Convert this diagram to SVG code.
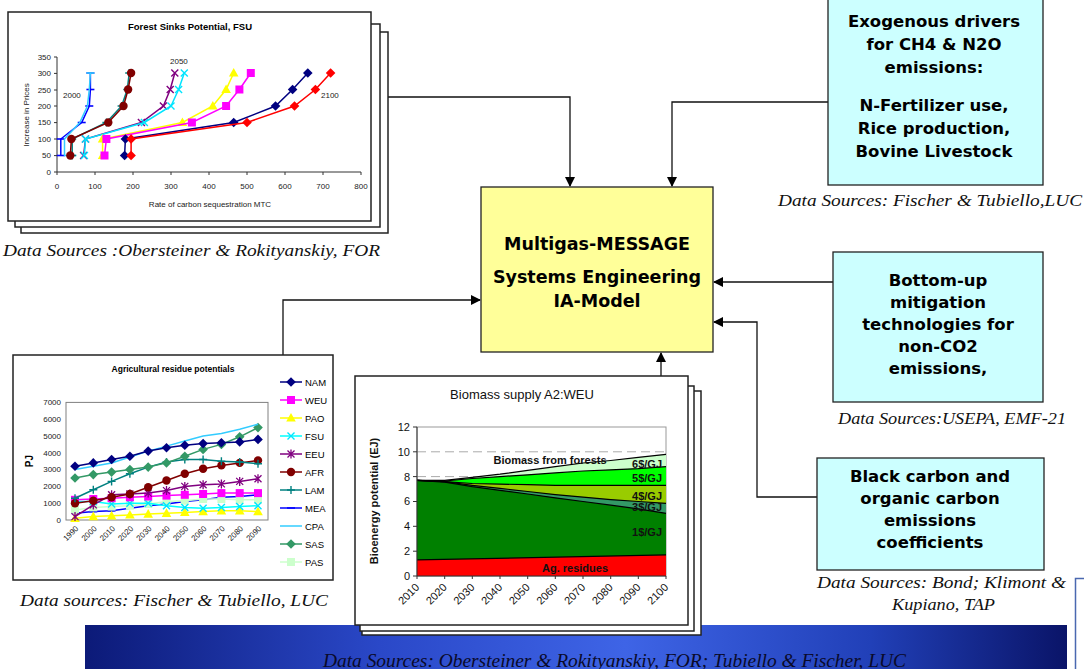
<svg xmlns="http://www.w3.org/2000/svg" width="1084" height="669" viewBox="0 0 1084 669">
<style>
.sheet{fill:#fff;stroke:#222;stroke-width:1.5}
.box{stroke:#222;stroke-width:1.3}
.bt{font-family:"DejaVu Sans",Verdana,sans-serif;font-weight:bold;font-size:16.5px;fill:#000;text-anchor:middle}
.ct{font-family:"DejaVu Sans",Verdana,sans-serif;font-weight:bold;font-size:17.5px;fill:#000;text-anchor:middle}
.src{font-family:"Liberation Serif","Times New Roman",serif;font-style:italic;font-size:16px;fill:#111}
.ax{font-family:"Liberation Sans",Arial,sans-serif;font-size:8px;fill:#222}
.axe{font-family:"Liberation Sans",Arial,sans-serif;font-size:8px;fill:#222;text-anchor:end}
.axm{font-family:"Liberation Sans",Arial,sans-serif;font-size:8px;fill:#222;text-anchor:middle}
.lg{font-family:"Liberation Sans",Arial,sans-serif;font-size:9.5px;fill:#000}
.bx{font-family:"Liberation Sans",Arial,sans-serif;font-size:11px;fill:#111;text-anchor:end}
.bl{font-family:"Liberation Sans",Arial,sans-serif;font-size:11px;font-weight:bold;fill:#111}
.conn{fill:none;stroke:#111;stroke-width:1.3}
.s{fill:none;stroke-width:1.5}
.bd{fill:none;stroke:#000;stroke-width:1.2}
.axl{fill:none;stroke:#333;stroke-width:1}
</style>
<defs>
<marker id="arr" markerUnits="userSpaceOnUse" markerWidth="12" markerHeight="12" refX="9" refY="5" orient="auto"><path d="M0,0L10,5L0,10Z" fill="#000"/></marker>
<marker id="mDashB" markerUnits="userSpaceOnUse" overflow="visible"><path d="M-4,0H4" stroke="#0000ff" stroke-width="1.6"/></marker>
<marker id="mDashC" markerUnits="userSpaceOnUse" overflow="visible"><path d="M-4,0H4" stroke="#33ccff" stroke-width="1.6"/></marker>
<marker id="mPlusT" markerUnits="userSpaceOnUse" overflow="visible"><path d="M-4,0H4M0,-4V4" stroke="#008080" stroke-width="1.4"/></marker>
<marker id="mCircR" markerUnits="userSpaceOnUse" overflow="visible"><circle r="4.2" fill="#800000"/></marker>
<marker id="mXP" markerUnits="userSpaceOnUse" overflow="visible"><path d="M-3.5,-3.5L3.5,3.5M-3.5,3.5L3.5,-3.5" stroke="#800080" stroke-width="1.4"/></marker>
<marker id="mAstP" markerUnits="userSpaceOnUse" overflow="visible"><path d="M-3.5,-3.5L3.5,3.5M-3.5,3.5L3.5,-3.5M0,-4.5V4.5" stroke="#800080" stroke-width="1.3"/></marker>
<marker id="mXC" markerUnits="userSpaceOnUse" overflow="visible"><path d="M-3.5,-3.5L3.5,3.5M-3.5,3.5L3.5,-3.5" stroke="#00e5ff" stroke-width="1.4"/></marker>
<marker id="mTriY" markerUnits="userSpaceOnUse" overflow="visible"><path d="M0,-5L4.8,3.6L-4.8,3.6Z" fill="#ffff00"/></marker>
<marker id="mSqM" markerUnits="userSpaceOnUse" overflow="visible"><rect x="-4" y="-4" width="8" height="8" fill="#ff00ff"/></marker>
<marker id="mSqP" markerUnits="userSpaceOnUse" overflow="visible"><rect x="-4" y="-4" width="8" height="8" fill="#ccffcc"/></marker>
<marker id="mDiaN" markerUnits="userSpaceOnUse" overflow="visible"><path d="M0,-4.8L4.8,0L0,4.8L-4.8,0Z" fill="#000080"/></marker>
<marker id="mDiaR" markerUnits="userSpaceOnUse" overflow="visible"><path d="M0,-4.8L4.8,0L0,4.8L-4.8,0Z" fill="#ff0000"/></marker>
<marker id="mDiaS" markerUnits="userSpaceOnUse" overflow="visible"><path d="M0,-4.8L4.8,0L0,4.8L-4.8,0Z" fill="#339966"/></marker>
<linearGradient id="band" x1="0" y1="0" x2="1" y2="0">
<stop offset="0" stop-color="#0c1a78"/><stop offset="0.3" stop-color="#2a48c8"/><stop offset="0.55" stop-color="#3e64e6"/><stop offset="0.8" stop-color="#2140b8"/><stop offset="1" stop-color="#0a1468"/>
</linearGradient>
</defs>
<rect width="1084" height="669" fill="#fff"/>

<g id="band-footer">
<rect x="85" y="625" width="982" height="44" fill="url(#band)"/>
<rect x="1075.5" y="578.5" width="20" height="100" fill="#fff" stroke="#4a68b0" stroke-width="1.5"/>
<text x="323" y="667" font-family="'Liberation Serif','Times New Roman',serif" font-style="italic" font-size="18px" fill="#0a0a2a" textLength="583" lengthAdjust="spacingAndGlyphs">Data Sources: Obersteiner &amp; Rokityanskiy, FOR; Tubiello &amp; Fischer, LUC</text>
</g>

<g id="connectors">
<polyline class="conn" points="388,97 570,97 570,186" marker-end="url(#arr)"/>
<polyline class="conn" points="828,102 672,102 672,186" marker-end="url(#arr)"/>
<polyline class="conn" points="283,355 283,300 480,300" marker-end="url(#arr)"/>
<polyline class="conn" points="833,282 714,282" marker-end="url(#arr)"/>
<polyline class="conn" points="817,497 757,497 757,322 714,322" marker-end="url(#arr)"/>
<polyline class="conn" points="661,376 661,353" marker-end="url(#arr)"/>
</g>

<g id="forest-chart">
<rect class="sheet" x="21" y="32" width="367" height="201"/>
<rect class="sheet" x="15" y="24" width="365" height="203"/>
<rect class="sheet" x="8" y="12" width="363" height="209"/>
<text x="190" y="30" font-family="'Liberation Sans',Arial,sans-serif" font-weight="bold" font-size="9.5px" text-anchor="middle">Forest Sinks Potential, FSU</text>
<path class="axl" d="M57,57V172H361M54,57H57M54,73.4H57M54,90H57M54,106H57M54,122.6H57M54,139H57M54,155.6H57M54,172H57M57,172V175M95,172V175M133,172V175M171,172V175M209,172V175M247,172V175M285,172V175M323,172V175M361,172V175"/>
<text class="axe" x="51" y="60">350</text>
<text class="axe" x="51" y="76">300</text>
<text class="axe" x="51" y="93">250</text>
<text class="axe" x="51" y="109">200</text>
<text class="axe" x="51" y="125">150</text>
<text class="axe" x="51" y="142">100</text>
<text class="axe" x="51" y="158">50</text>
<text class="axe" x="51" y="175">0</text>
<text class="axm" x="57" y="189">0</text>
<text class="axm" x="95" y="189">100</text>
<text class="axm" x="133" y="189">200</text>
<text class="axm" x="171" y="189">300</text>
<text class="axm" x="209" y="189">400</text>
<text class="axm" x="247" y="189">500</text>
<text class="axm" x="285" y="189">600</text>
<text class="axm" x="323" y="189">700</text>
<text class="axm" x="361" y="189">800</text>
<text class="axm" x="210" y="207">Rate of carbon sequestration MTC</text>
<text class="axm" x="29" y="115" transform="rotate(-90 29 115)">Increase in Prices</text>
<text class="ax" x="63" y="98">2000</text>
<text class="ax" x="170" y="64">2050</text>
<text class="ax" x="321" y="98">2100</text>
<polyline class="s" stroke="#0000ff" points="60.8,155.5 60.8,139 81.7,122.5 89.3,106 90.4,89.5 90.4,73" marker-start="url(#mDashB)" marker-mid="url(#mDashB)" marker-end="url(#mDashB)"/>
<polyline class="s" stroke="#33ccff" points="72.2,155.5 64.5,155.5 64.5,139 79.8,122.5 87.4,106 89.3,89.5 90.4,73" marker-start="url(#mDashC)" marker-end="url(#mDashC)"/>
<polyline class="s" stroke="#008080" points="72.2,155.5 72.2,139 106.4,122.5 121.6,106 127.3,89.5 129.2,73" marker-start="url(#mPlusT)" marker-mid="url(#mPlusT)" marker-end="url(#mPlusT)"/>
<polyline class="s" stroke="#800000" points="70.3,155.5 71.4,139 108.3,122.5 123.5,106 128.1,89.5 131.1,73" marker-start="url(#mCircR)" marker-mid="url(#mCircR)" marker-end="url(#mCircR)"/>
<polyline class="s" stroke="#800080" points="83.6,155.5 85.5,139 141.4,122.5 163.4,106 170.2,89.5 174.8,73" marker-start="url(#mXP)" marker-mid="url(#mXP)" marker-end="url(#mXP)"/>
<polyline class="s" stroke="#00e5ff" points="84.4,155.5 85.5,139 144.4,122.5 171,106 178.6,89.5 184.3,73" marker-start="url(#mXC)" marker-mid="url(#mXC)" marker-end="url(#mXC)"/>
<polyline class="s" stroke="#ffff00" points="102.6,155.5 102.6,139 182.4,122.5 212.8,106 226.1,89.5 233.7,73" marker-start="url(#mTriY)" marker-mid="url(#mTriY)" marker-end="url(#mTriY)"/>
<polyline class="s" stroke="#ff00ff" points="104.5,155.5 106.4,139 191.9,122.5 226.1,106 239.4,89.5 250.8,73" marker-start="url(#mSqM)" marker-mid="url(#mSqM)" marker-end="url(#mSqM)"/>
<polyline class="s" stroke="#000080" points="124.6,155.5 125.4,139 233.7,122.5 275.5,106 292.6,89.5 307.8,73" marker-start="url(#mDiaN)" marker-mid="url(#mDiaN)" marker-end="url(#mDiaN)"/>
<polyline class="s" stroke="#ff0000" points="131.1,155.5 131.1,139 247,122.5 294.5,106 315.4,89.5 330.6,73" marker-start="url(#mDiaR)" marker-mid="url(#mDiaR)" marker-end="url(#mDiaR)"/>
</g>
<text class="src" x="3" y="256" textLength="377" lengthAdjust="spacingAndGlyphs">Data Sources :Obersteiner &amp; Rokityanskiy, FOR</text>

<g id="agri-chart">
<rect class="sheet" x="13" y="355" width="320" height="225"/>
<text x="173" y="372" font-family="'Liberation Sans',Arial,sans-serif" font-weight="bold" font-size="8.5px" text-anchor="middle">Agricultural residue potentials</text>
<rect x="66" y="402.4" width="202" height="117.6" fill="#fff" stroke="#808080" stroke-width="1"/>
<text class="axe" x="61" y="405">7000</text>
<text class="axe" x="61" y="422">6000</text>
<text class="axe" x="61" y="439">5000</text>
<text class="axe" x="61" y="456">4000</text>
<text class="axe" x="61" y="472">3000</text>
<text class="axe" x="61" y="489">2000</text>
<text class="axe" x="61" y="506">1000</text>
<text class="axe" x="61" y="523">0</text>
<text x="33" y="461" transform="rotate(-90 33 461)" font-family="'Liberation Sans',Arial,sans-serif" font-weight="bold" font-size="10px" text-anchor="middle">PJ</text>
<text class="axe" style="transform:translate(79px,529px) rotate(-45deg)">1990</text>
<text class="axe" style="transform:translate(97.3px,529px) rotate(-45deg)">2000</text>
<text class="axe" style="transform:translate(115.6px,529px) rotate(-45deg)">2010</text>
<text class="axe" style="transform:translate(133.9px,529px) rotate(-45deg)">2020</text>
<text class="axe" style="transform:translate(152.2px,529px) rotate(-45deg)">2030</text>
<text class="axe" style="transform:translate(170.5px,529px) rotate(-45deg)">2040</text>
<text class="axe" style="transform:translate(188.8px,529px) rotate(-45deg)">2050</text>
<text class="axe" style="transform:translate(207.1px,529px) rotate(-45deg)">2060</text>
<text class="axe" style="transform:translate(225.4px,529px) rotate(-45deg)">2070</text>
<text class="axe" style="transform:translate(243.7px,529px) rotate(-45deg)">2080</text>
<text class="axe" style="transform:translate(262px,529px) rotate(-45deg)">2090</text>
<polyline class="s" stroke="#0000ff" stroke-width="1" points="75,513.3 93.3,511.6 111.6,510.8 129.9,508.2 148.2,505.7 166.5,504 184.8,501.5 203.1,499.8 221.4,497.3 239.7,496.5 258,494.8" marker-start="url(#mDashB)" marker-mid="url(#mDashB)" marker-end="url(#mDashB)"/>
<polyline class="s" stroke="#ccffcc" points="75,509.9 93.3,507.4 111.6,506.6 129.9,505.7 148.2,504 166.5,501.5 184.8,500.7 203.1,499 221.4,499 239.7,499.8 258,499.8" marker-start="url(#mSqP)" marker-mid="url(#mSqP)" marker-end="url(#mSqP)"/>
<polyline class="s" stroke="#ffff00" points="75,518.3 93.3,516.6 111.6,515.8 129.9,515 148.2,514.1 166.5,513.3 184.8,512.4 203.1,511.6 221.4,510.8 239.7,510.8 258,511.6" marker-start="url(#mTriY)" marker-mid="url(#mTriY)" marker-end="url(#mTriY)"/>
<polyline class="s" stroke="#00ffff" points="75,501.5 93.3,501.5 111.6,504 129.9,503.2 148.2,503.2 166.5,505.7 184.8,507.4 203.1,508.2 221.4,507.4 239.7,506.6 258,505.7" marker-start="url(#mXC)" marker-mid="url(#mXC)" marker-end="url(#mXC)"/>
<polyline class="s" stroke="#ff00ff" points="75,499.8 93.3,499 111.6,498.2 129.9,497.3 148.2,496.5 166.5,495.6 184.8,494.8 203.1,494 221.4,493.1 239.7,493.1 258,493.1" marker-start="url(#mSqM)" marker-mid="url(#mSqM)" marker-end="url(#mSqM)"/>
<polyline class="s" stroke="#800080" points="75,516.6 93.3,504.9 111.6,494.8 129.9,494 148.2,493.1 166.5,490.6 184.8,486.4 203.1,484.7 221.4,483.9 239.7,481.4 258,478.8" marker-start="url(#mAstP)" marker-mid="url(#mAstP)" marker-end="url(#mAstP)"/>
<polyline class="s" stroke="#800000" points="75,503.2 93.3,500.7 111.6,497.3 129.9,494 148.2,487.2 166.5,480.5 184.8,473.8 203.1,468.8 221.4,465.4 239.7,462.9 258,460.4" marker-start="url(#mCircR)" marker-mid="url(#mCircR)" marker-end="url(#mCircR)"/>
<polyline class="s" stroke="#008080" points="75,498.2 93.3,489.8 111.6,481.4 129.9,473.8 148.2,467.1 166.5,462 184.8,459.5 203.1,459.5 221.4,461.2 239.7,462 258,463.7" marker-start="url(#mPlusT)" marker-mid="url(#mPlusT)" marker-end="url(#mPlusT)"/>
<polyline class="s" stroke="#339966" points="75,478 93.3,474.6 111.6,472.1 129.9,469.6 148.2,467.1 166.5,462.9 184.8,456.2 203.1,449.4 221.4,444.4 239.7,436.8 258,427.6" marker-start="url(#mDiaS)" marker-mid="url(#mDiaS)" marker-end="url(#mDiaS)"/>
<polyline class="s" stroke="#33ccff" stroke-width="2" points="75,469.6 93.3,466.2 111.6,462.9 129.9,457 148.2,451.1 166.5,446.1 184.8,441 203.1,436 221.4,433.5 239.7,429.3 258,424.2"/>
<polyline class="s" stroke="#000080" points="75,466.2 93.3,462.9 111.6,459.5 129.9,456.2 148.2,451.1 166.5,447.8 184.8,445.2 203.1,443.6 221.4,442.7 239.7,441.9 258,439.4" marker-start="url(#mDiaN)" marker-mid="url(#mDiaN)" marker-end="url(#mDiaN)"/>
<polyline class="s" stroke="#000080" points="280,382 291,382 302,382" marker-mid="url(#mDiaN)"/>
<polyline class="s" stroke="#ff00ff" points="280,400 291,400 302,400" marker-mid="url(#mSqM)"/>
<polyline class="s" stroke="#ffff00" points="280,418 291,418 302,418" marker-mid="url(#mTriY)"/>
<polyline class="s" stroke="#00ffff" points="280,436 291,436 302,436" marker-mid="url(#mXC)"/>
<polyline class="s" stroke="#800080" points="280,454 291,454 302,454" marker-mid="url(#mAstP)"/>
<polyline class="s" stroke="#800000" points="280,472 291,472 302,472" marker-mid="url(#mCircR)"/>
<polyline class="s" stroke="#008080" points="280,490 291,490 302,490" marker-mid="url(#mPlusT)"/>
<polyline class="s" stroke="#0000ff" points="280,508 291,508 302,508" marker-mid="url(#mDashB)"/>
<polyline class="s" stroke="#33ccff" stroke-width="2" points="280,526 291,526 302,526"/>
<polyline class="s" stroke="#339966" points="280,544 291,544 302,544" marker-mid="url(#mDiaS)"/>
<polyline class="s" stroke="#ccffcc" points="280,562 291,562 302,562" marker-mid="url(#mSqP)"/>
<text class="lg" x="305" y="386">NAM</text>
<text class="lg" x="305" y="404">WEU</text>
<text class="lg" x="305" y="422">PAO</text>
<text class="lg" x="305" y="440">FSU</text>
<text class="lg" x="305" y="458">EEU</text>
<text class="lg" x="305" y="476">AFR</text>
<text class="lg" x="305" y="494">LAM</text>
<text class="lg" x="305" y="512">MEA</text>
<text class="lg" x="305" y="530">CPA</text>
<text class="lg" x="305" y="548">SAS</text>
<text class="lg" x="305" y="566">PAS</text>
</g>
<text class="src" x="20" y="606" textLength="308" lengthAdjust="spacingAndGlyphs">Data sources: Fischer &amp; Tubiello, LUC</text>

<g id="biomass-chart">
<rect class="sheet" x="362" y="391" width="339" height="244"/>
<rect class="sheet" x="360" y="386" width="334" height="245"/>
<rect class="sheet" x="355" y="376" width="333" height="249"/>
<text x="522" y="399" font-family="'Liberation Sans',Arial,sans-serif" font-size="13px" text-anchor="middle" fill="#111">Biomass supply A2:WEU</text>
<rect x="417" y="427" width="249" height="149" fill="#fff" stroke="#999" stroke-width="1"/>
<path d="M417,451.8H666M417,476.6H666M417,501.5H666M417,526.3H666M417,551.2H666" fill="none" stroke="#aaa" stroke-width="1" stroke-dasharray="9,5"/>
<polygon fill="#ccffcc" points="417,480.4 444.7,480.4 472.3,477.3 500,474.2 527.7,470.4 555.3,466.7 583,463 610.7,460.5 638.3,457.4 666,454.3 666,576 417,576"/>
<polygon fill="#00ff00" points="417,480.4 444.7,481 472.3,478.5 500,476.6 527.7,474.8 555.3,472.9 583,471 610.7,469.8 638.3,468.6 666,466.7 666,576 417,576"/>
<polygon fill="#99cc00" points="417,480.4 444.7,481.6 472.3,483.5 500,484.1 527.7,484.7 555.3,485.3 583,485.3 610.7,485.3 638.3,485.3 666,485.3 666,576 417,576"/>
<polygon fill="#339966" points="417,480.4 444.7,481.6 472.3,485.3 500,488.4 527.7,491.5 555.3,494.6 583,497.1 610.7,499.6 638.3,501.5 666,503.3 666,576 417,576"/>
<polygon fill="#008000" points="417,480.4 444.7,482.2 472.3,486.6 500,490.3 527.7,494 555.3,497.8 583,501.5 610.7,505.2 638.3,508.9 666,513.3 666,576 417,576"/>
<polygon fill="#ff0000" points="417,559.9 666,554.9 666,576 417,576"/>
<polyline class="bd" points="417,480.4 444.7,480.4 472.3,477.3 500,474.2 527.7,470.4 555.3,466.7 583,463 610.7,460.5 638.3,457.4 666,454.3"/>
<polyline class="bd" points="417,480.4 444.7,481 472.3,478.5 500,476.6 527.7,474.8 555.3,472.9 583,471 610.7,469.8 638.3,468.6 666,466.7"/>
<polyline class="bd" points="417,480.4 444.7,481.6 472.3,483.5 500,484.1 527.7,484.7 555.3,485.3 583,485.3 610.7,485.3 638.3,485.3 666,485.3"/>
<polyline class="bd" points="417,480.4 444.7,481.6 472.3,485.3 500,488.4 527.7,491.5 555.3,494.6 583,497.1 610.7,499.6 638.3,501.5 666,503.3"/>
<polyline class="bd" points="417,480.4 444.7,482.2 472.3,486.6 500,490.3 527.7,494 555.3,497.8 583,501.5 610.7,505.2 638.3,508.9 666,513.3"/>
<polyline class="bd" points="417,559.9 666,554.9"/>
<path class="axl" stroke="#222" d="M417,427V579M413,427H417M413,451.8H417M413,476.6H417M413,501.5H417M413,526.3H417M413,551.2H417M413,576H666M444.7,576V579M472.3,576V579M500,576V579M527.7,576V579M555.3,576V579M583,576V579M610.7,576V579M638.3,576V579M666,576V579"/>
<text class="bx" x="410" y="431">12</text>
<text class="bx" x="410" y="456">10</text>
<text class="bx" x="410" y="481">8</text>
<text class="bx" x="410" y="505">6</text>
<text class="bx" x="410" y="530">4</text>
<text class="bx" x="410" y="555">2</text>
<text class="bx" x="410" y="580">0</text>
<text class="bx" x="420" y="588" transform="rotate(-45 420 588)">2010</text>
<text class="bx" x="447.7" y="588" transform="rotate(-45 447.7 588)">2020</text>
<text class="bx" x="475.3" y="588" transform="rotate(-45 475.3 588)">2030</text>
<text class="bx" x="503" y="588" transform="rotate(-45 503 588)">2040</text>
<text class="bx" x="530.7" y="588" transform="rotate(-45 530.7 588)">2050</text>
<text class="bx" x="558.3" y="588" transform="rotate(-45 558.3 588)">2060</text>
<text class="bx" x="586" y="588" transform="rotate(-45 586 588)">2070</text>
<text class="bx" x="613.7" y="588" transform="rotate(-45 613.7 588)">2080</text>
<text class="bx" x="641.3" y="588" transform="rotate(-45 641.3 588)">2090</text>
<text class="bx" x="669" y="588" transform="rotate(-45 669 588)">2100</text>
<text class="bl" x="378" y="501" transform="rotate(-90 378 501)" text-anchor="middle">Bioenergy potential (EJ)</text>
<text class="bl" x="550" y="464" text-anchor="middle">Biomass from forests</text>
<text class="bl" x="662" y="468" text-anchor="end">6$/GJ</text>
<text class="bl" x="662" y="482" text-anchor="end">5$/GJ</text>
<text class="bl" x="662" y="500" text-anchor="end">4$/GJ</text>
<text class="bl" x="662" y="511" text-anchor="end">3$/GJ</text>
<text class="bl" x="662" y="536" text-anchor="end">1$/GJ</text>
<text class="bl" x="575" y="572" text-anchor="middle">Ag. residues</text>
</g>

<g id="model">
<rect class="box" x="481" y="187" width="232" height="165" fill="#ffff99"/>
<text class="ct" x="597" y="250">Multigas-MESSAGE</text>
<text class="ct" x="597" y="283">Systems Engineering</text>
<text class="ct" x="597" y="307">IA-Model</text>
</g>

<g id="exogenous">
<rect class="box" x="828" y="-2" width="215" height="187" fill="#ccffff"/>
<text class="bt" x="934" y="27">Exogenous drivers</text>
<text class="bt" x="934" y="50">for CH4 &amp; N2O</text>
<text class="bt" x="934" y="73">emissions:</text>
<text class="bt" x="934" y="111">N-Fertilizer use,</text>
<text class="bt" x="934" y="134">Rice production,</text>
<text class="bt" x="934" y="157">Bovine Livestock</text>
</g>
<text class="src" x="778" y="206" textLength="304" lengthAdjust="spacingAndGlyphs">Data Sources: Fischer &amp; Tubiello,LUC</text>

<g id="bottom-up">
<rect class="box" x="833" y="252" width="210" height="150" fill="#ccffff"/>
<text class="bt" x="938" y="286">Bottom-up</text>
<text class="bt" x="938" y="308">mitigation</text>
<text class="bt" x="938" y="330">technologies for</text>
<text class="bt" x="938" y="352">non-CO2</text>
<text class="bt" x="938" y="374">emissions,</text>
</g>
<text class="src" x="838" y="424" textLength="228" lengthAdjust="spacingAndGlyphs">Data Sources:USEPA, EMF-21</text>

<g id="black-carbon">
<rect class="box" x="817" y="458" width="227" height="112" fill="#ccffff"/>
<text class="bt" x="930" y="482">Black carbon and</text>
<text class="bt" x="930" y="504">organic carbon</text>
<text class="bt" x="930" y="526">emissions</text>
<text class="bt" x="930" y="548">coefficients</text>
</g>
<text class="src" x="817" y="588" textLength="249" lengthAdjust="spacingAndGlyphs">Data Sources: Bond; Klimont &amp;</text>
<text class="src" x="892" y="610" textLength="103" lengthAdjust="spacingAndGlyphs">Kupiano, TAP</text>
</svg>
